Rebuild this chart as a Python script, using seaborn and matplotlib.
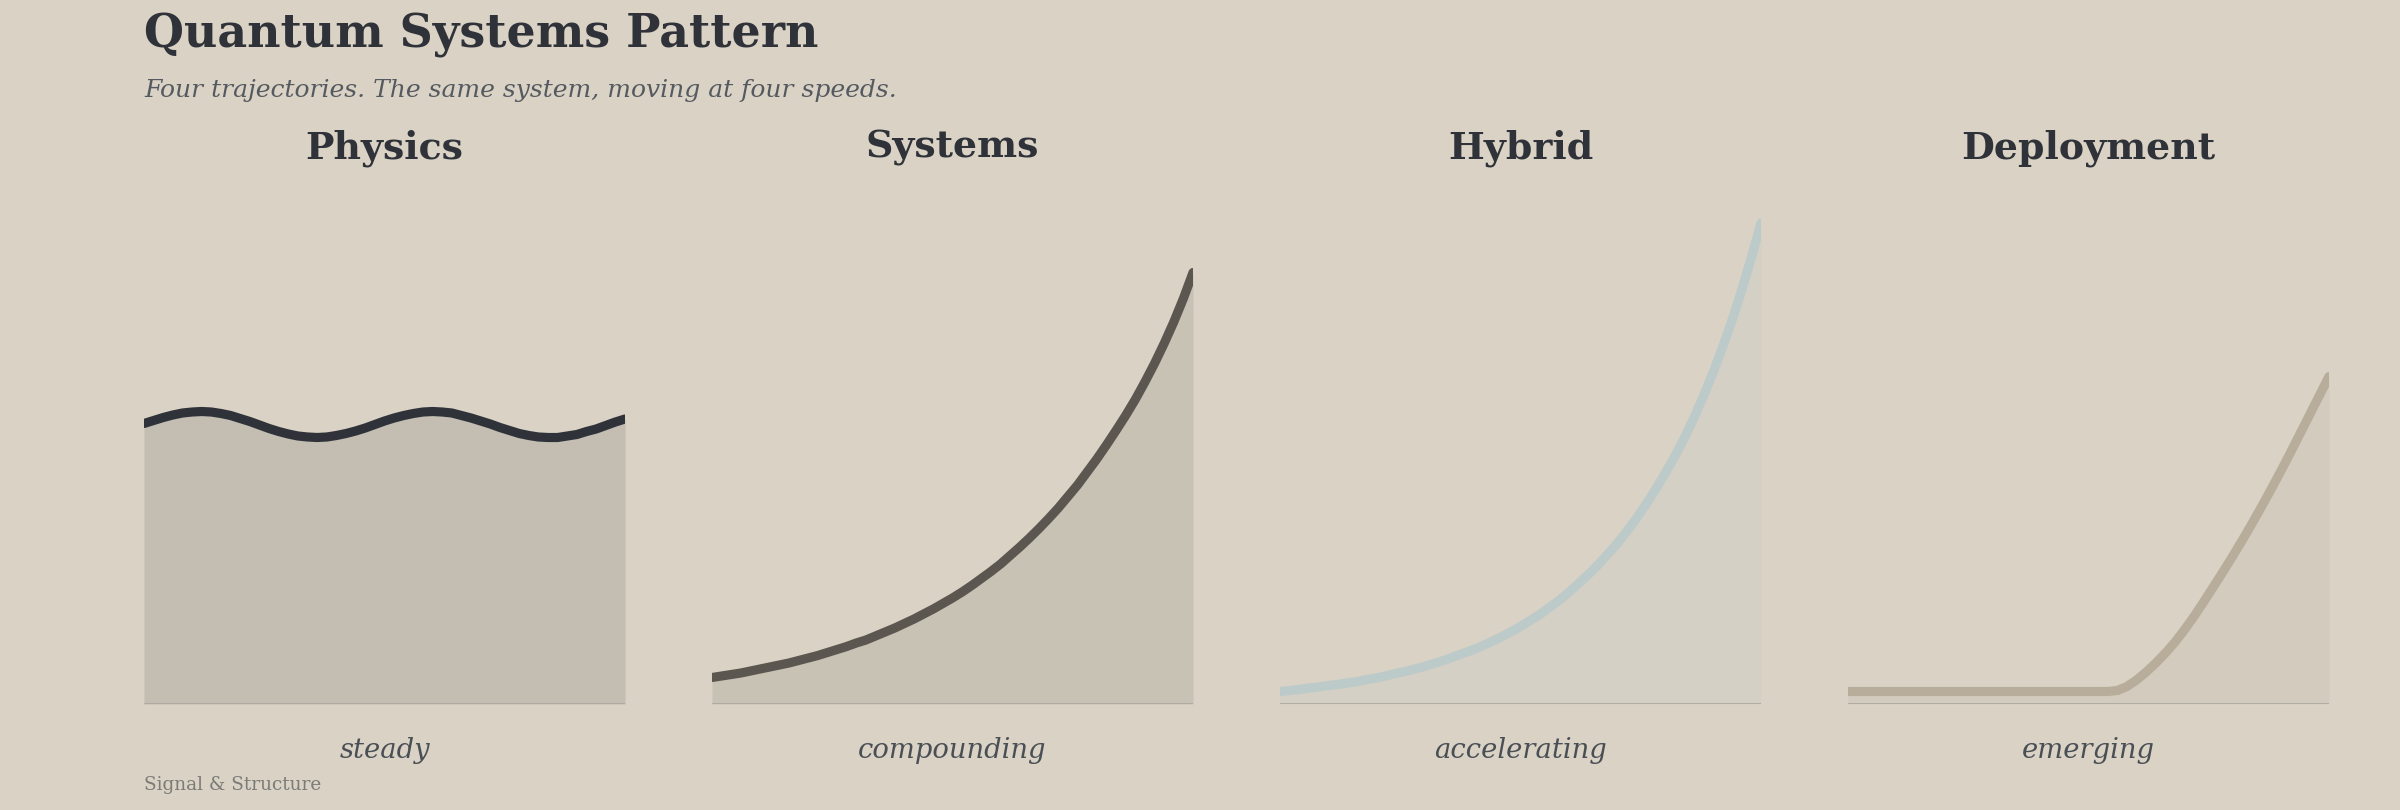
import numpy as np
import pandas as pd
import matplotlib
matplotlib.use("Agg")
import matplotlib.pyplot as plt
import seaborn as sns

# -------------------------
# Data (height as % of panel)
# -------------------------
x_pos = np.round(np.arange(0, 1.0001, 0.02), 2)

physics = [56.1, 56.7, 57.3, 57.8, 58.2, 58.4, 58.5, 58.4, 58.1, 57.7,
           57.1, 56.5, 55.8, 55.1, 54.5, 54.0, 53.6, 53.4, 53.3, 53.4,
           53.7, 54.1, 54.6, 55.2, 55.9, 56.6, 57.2, 57.7, 58.1, 58.4,
           58.5, 58.4, 58.2, 57.7, 57.2, 56.6, 56.0, 55.3, 54.7, 54.1,
           53.7, 53.4, 53.3, 53.3, 53.6, 53.9, 54.5, 55.0, 55.7, 56.4,
           57.0]
systems = [5.3, 5.6, 5.9, 6.2, 6.6, 7.0, 7.4, 7.8, 8.2, 8.7,
           9.2, 9.7, 10.3, 10.9, 11.5, 12.2, 12.8, 13.6, 14.4, 15.2,
           16.1, 17.0, 18.0, 19.0, 20.1, 21.2, 22.4, 23.7, 25.1, 26.5,
           28.0, 29.7, 31.4, 33.2, 35.1, 37.1, 39.2, 41.5, 43.8, 46.4,
           49.0, 51.8, 54.7, 57.7, 60.9, 64.4, 68.1, 72.1, 76.4, 81.1,
           86.3]
hybrid = [2.5, 2.7, 2.9, 3.2, 3.4, 3.7, 3.9, 4.2, 4.5, 4.9,
          5.2, 5.6, 6.1, 6.5, 7.0, 7.5, 8.1, 8.7, 9.4, 10.1,
          10.8, 11.6, 12.5, 13.4, 14.4, 15.5, 16.7, 17.9, 19.3, 20.7,
          22.3, 24.0, 25.8, 27.7, 29.8, 32.0, 34.4, 37.0, 39.8, 42.8,
          46.0, 49.4, 53.1, 57.1, 61.5, 66.2, 71.3, 76.8, 82.8, 89.3,
          96.2]
deployment = [2.5, 2.5, 2.5, 2.5, 2.5, 2.5, 2.5, 2.5, 2.5, 2.5,
              2.5, 2.5, 2.5, 2.5, 2.5, 2.5, 2.5, 2.5, 2.5, 2.5,
              2.5, 2.5, 2.5, 2.5, 2.5, 2.5, 2.5, 2.5, 2.7, 3.5,
              4.8, 6.4, 8.2, 10.2, 12.4, 14.9, 17.6, 20.5, 23.5, 26.5,
              29.6, 32.8, 36.1, 39.5, 43.0, 46.6, 50.3, 54.1, 57.9, 61.7,
              65.5]

panel_names = ["Physics", "Systems", "Hybrid", "Deployment"]
panel_labels = ["steady", "compounding", "accelerating", "emerging"]
panel_series = [physics, systems, hybrid, deployment]
line_colors = ["#2f3339", "#5b5750", "#bccac9", "#b7ad9a"]
fill_alpha = [0.13, 0.13, 0.16, 0.15]

BG = "#d9d2c5"
INK = "#2f3339"

sns.set_theme(style="white")
plt.rcParams["font.family"] = ["DejaVu Serif"]

fig = plt.figure(figsize=(24, 8.1), dpi=100, facecolor=BG)

W, H = 2400, 810
ax_left = [144, 712, 1280, 1848]
ax_w = 481
ax_bottom = 704
ax_top = 204

for i, name in enumerate(panel_names):
    ax = fig.add_axes([ax_left[i] / W, 1 - ax_bottom / H, ax_w / W, (ax_bottom - ax_top) / H])
    ax.set_facecolor(BG)
    df = pd.DataFrame({"x": x_pos, "y": panel_series[i]})
    ax.fill_between(df["x"], 0, df["y"], color=line_colors[i], alpha=fill_alpha[i], lw=0)
    sns.lineplot(data=df, x="x", y="y", ax=ax, color=line_colors[i], linewidth=6.6,
                 solid_capstyle="round", solid_joinstyle="round")
    ax.axhline(0, color="#a9a7a0", linewidth=1.2, zorder=1)
    ax.set_xlim(0, 1)
    ax.set_ylim(0, 100)
    ax.set_xticks([])
    ax.set_yticks([])
    ax.set_xlabel("")
    ax.set_ylabel("")
    sns.despine(ax=ax, left=True, bottom=True)

    cx = (ax_left[i] + ax_w / 2) / W
    fig.text(cx, 1 - 148 / H, name, ha="center", va="center", fontsize=27.3,
             fontweight="bold", color=INK)
    fig.text(cx, 1 - 750 / H, panel_labels[i], ha="center", va="center", fontsize=19.7,
             style="italic", color="#4a4f55")

fig.text(144 / W, 1 - 48 / H, "Quantum Systems Pattern", ha="left", va="baseline",
         fontsize=33, fontweight="bold", color=INK)
fig.text(144 / W, 1 - 97 / H, "Four trajectories. The same system, moving at four speeds.",
         ha="left", va="baseline", fontsize=18, style="italic", color="#555a60")
fig.text(144 / W, 1 - 790 / H, "Signal & Structure", ha="left", va="baseline",
         fontsize=13.3, color="#7b7b78")

fig.savefig("out.png", dpi=100, facecolor=BG)
